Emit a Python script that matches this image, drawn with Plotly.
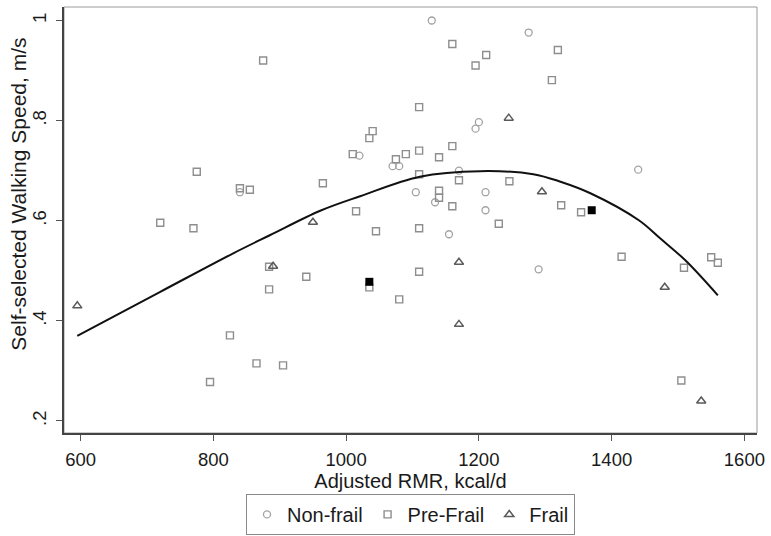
import plotly.graph_objects as go

# ---- data ----
nonfrail_x = [840, 1020, 1070, 1080, 1105, 1129, 1134, 1155, 1170, 1195, 1200, 1210, 1210, 1275, 1290, 1440]
nonfrail_y = [0.657, 0.730, 0.709, 0.709, 0.657, 1.000, 0.637, 0.573, 0.700, 0.784, 0.797, 0.657, 0.621, 0.976, 0.503, 0.702]

prefrail_x = [875, 775, 840, 855, 720, 770, 1160, 1211, 1195, 1310, 1319, 1110, 1040, 1035, 1160,
              1010, 1090, 1110, 1075, 1140, 1170, 1110, 965, 1246, 1140, 1140, 1160, 1015, 1230,
              1045, 1110, 1324, 1354, 884, 940, 884, 825, 865, 905, 795, 1035, 1110, 1080, 1415,
              1550, 1560, 1509, 1505]
prefrail_y = [0.920, 0.698, 0.665, 0.662, 0.596, 0.585, 0.953, 0.931, 0.910, 0.881, 0.941, 0.827,
              0.779, 0.765, 0.749, 0.733, 0.733, 0.740, 0.723, 0.727, 0.681, 0.693, 0.675, 0.679,
              0.660, 0.646, 0.629, 0.619, 0.594, 0.579, 0.585, 0.631, 0.617, 0.508, 0.488, 0.463,
              0.371, 0.315, 0.311, 0.278, 0.467, 0.498, 0.443, 0.528, 0.527, 0.516, 0.506, 0.281]

frail_x = [595, 890, 950, 1245, 1295, 1170, 1170, 1480, 1535]
frail_y = [0.430, 0.509, 0.597, 0.805, 0.658, 0.517, 0.393, 0.467, 0.240]

highlight_x = [1035, 1370]
highlight_y = [0.478, 0.621]

fit_x = [595, 720, 830, 885, 961, 1021, 1111, 1202, 1282, 1323, 1368, 1441, 1473, 1511, 1560]
fit_y = [0.370, 0.458, 0.535, 0.571, 0.620, 0.649, 0.688, 0.699, 0.693, 0.678, 0.655, 0.601, 0.565, 0.521, 0.451]

x_ticks = [600, 800, 1000, 1200, 1400, 1600]
y_ticks = [0.2, 0.4, 0.6, 0.8, 1.0]
y_ticklabels = [".2", ".4", ".6", ".8", "1"]

FONT = "Liberation Sans, Arial, sans-serif"
TXT = "#1a1a1a"

fig = go.Figure()
fig.add_trace(go.Scatter(
    x=nonfrail_x, y=nonfrail_y, mode="markers", name="Non-frail",
    marker=dict(symbol="circle-open", size=7, color="#a3a3a3", line=dict(width=1.3))))
fig.add_trace(go.Scatter(
    x=prefrail_x, y=prefrail_y, mode="markers", name="Pre-Frail",
    marker=dict(symbol="square-open", size=7, color="#8e8e8e", line=dict(width=1.4))))
fig.add_trace(go.Scatter(
    x=frail_x, y=frail_y, mode="markers", name="Frail",
    marker=dict(symbol="triangle-up-open", size=8, color="#5a5a5a", line=dict(width=1.5))))
fig.add_trace(go.Scatter(
    x=highlight_x, y=highlight_y, mode="markers", showlegend=False,
    marker=dict(symbol="square", size=8, color="#000000")))
fig.add_trace(go.Scatter(
    x=fit_x, y=fit_y, mode="lines", showlegend=False, line_shape="spline",
    line=dict(color="#111111", width=2)))

fig.add_shape(type="rect", xref="paper", yref="paper", x0=0, y0=0, x1=1, y1=1,
              line=dict(color="#9a9a9a", width=1), layer="below")

fig.add_annotation(text="Self-selected Walking Speed, m/s", textangle=-90,
                   xref="paper", yref="paper", x=-0.066, y=0.56,
                   xanchor="center", yanchor="middle", showarrow=False,
                   font=dict(family=FONT, size=21, color=TXT))

fig.update_layout(
    width=771, height=536,
    margin=dict(l=64, r=14, t=7, b=103, autoexpand=False),
    paper_bgcolor="white", plot_bgcolor="white",
    font=dict(family=FONT, size=18.5, color=TXT),
    xaxis=dict(range=[575, 1619], tickvals=x_ticks, ticks="outside", ticklen=6,
               tickcolor="#555", showline=True, linecolor="#444", linewidth=1.5,
               showgrid=False, zeroline=False, automargin=False, ticklabelstandoff=3,
               title=dict(text="Adjusted RMR, kcal/d", font=dict(size=20), standoff=0),
               tickfont=dict(size=18.5)),
    yaxis=dict(range=[0.176, 1.027], tickvals=y_ticks, ticktext=y_ticklabels,
               tickangle=-90, ticks="outside", ticklen=6, tickcolor="#555", showline=True,
               linecolor="#444", linewidth=1.5, showgrid=False, zeroline=False,
               automargin=False, ticklabelstandoff=3, tickfont=dict(size=18.5)),
    legend=dict(orientation="h", x=0.5, xanchor="center", y=-0.143, yanchor="top",
                bordercolor="#8a8a8a", borderwidth=1, font=dict(size=20)),
    showlegend=True,
)

fig.write_html("out.html", config={"displayModeBar": False},
               post_script="document.body.style.margin='0';document.body.style.overflow='hidden';")
